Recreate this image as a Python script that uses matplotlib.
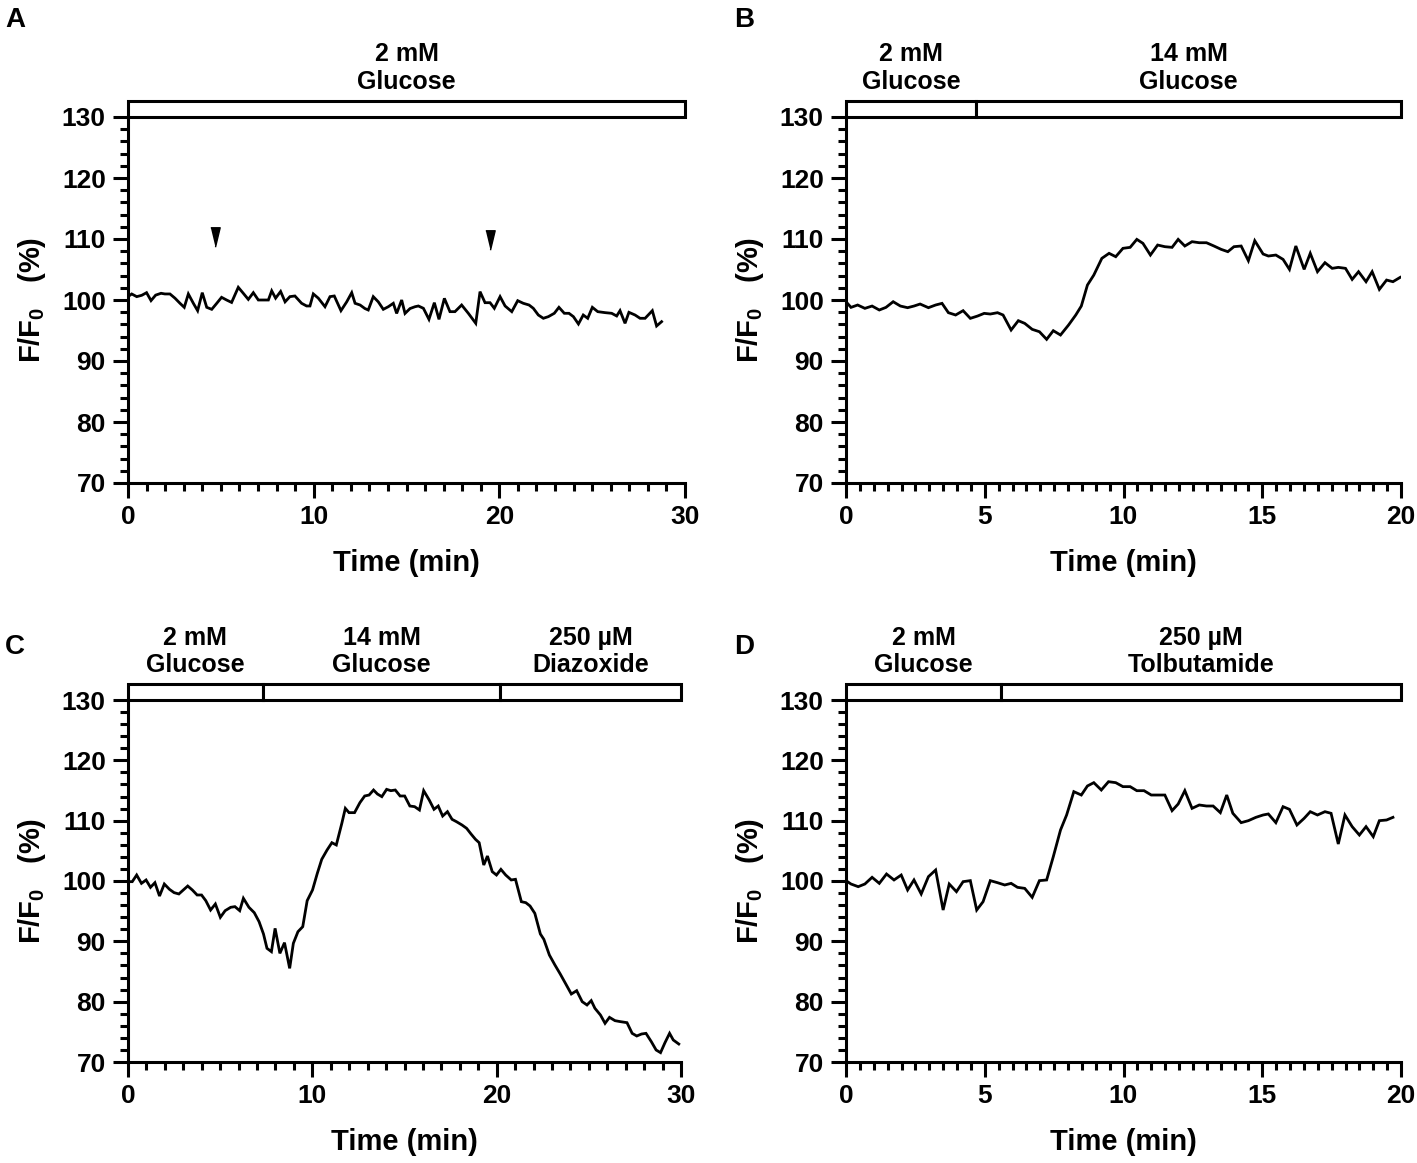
import matplotlib
matplotlib.use("Agg")
import matplotlib.pyplot as plt
from matplotlib.patches import Rectangle
from matplotlib.ticker import MultipleLocator

plt.rcParams['font.family'] = ['Liberation Sans', 'DejaVu Sans']
plt.rcParams['font.weight'] = 'bold'
plt.rcParams['mathtext.fontset'] = 'custom'
plt.rcParams['mathtext.rm'] = 'Liberation Sans'
plt.rcParams['mathtext.bf'] = 'Liberation Sans:bold'

# ---- data ----
# A : 2 mM glucose only
t_a = [0.0, 0.20, 0.47, 0.74, 1.00, 1.24, 1.49, 1.78, 1.99, 2.26, 2.53, 2.80, 3.03, 3.25,
       3.52, 3.75, 4.00, 4.24, 4.51, 4.78, 5.04, 5.31, 5.58, 5.94, 6.21, 6.48, 6.75, 7.02,
       7.29, 7.56, 7.74, 7.95, 8.22, 8.46, 8.72, 8.99, 9.35, 9.62, 9.80, 9.98, 10.25, 10.61,
       10.88, 11.11, 11.47, 11.78, 12.05, 12.23, 12.50, 12.76, 12.94, 13.21, 13.48, 13.75,
       14.02, 14.29, 14.47, 14.74, 14.92, 15.19, 15.46, 15.64, 15.91, 16.21, 16.50, 16.75,
       17.04, 17.34, 17.61, 17.97, 18.33, 18.73, 18.96, 19.23, 19.50, 19.73, 20.04, 20.31,
       20.67, 20.99, 21.29, 21.60, 21.83, 22.10, 22.37, 22.64, 22.96, 23.21, 23.50, 23.75,
       23.99, 24.26, 24.52, 24.76, 25.01, 25.30, 25.69, 26.05, 26.32, 26.50, 26.77, 26.98,
       27.31, 27.58, 27.85, 28.24, 28.47, 28.74]
f_a = [100.55, 100.99, 100.55, 100.77, 101.2, 99.9, 100.8, 101.1, 100.99, 100.99, 100.3,
       99.46, 98.8, 100.99, 99.46, 98.25, 101.2, 98.8, 98.47, 99.46, 100.44, 100.0, 99.6,
       102.08, 101.1, 100.1, 101.2, 100.0, 100.0, 100.0, 101.5, 100.3, 101.4, 99.7, 100.55,
       100.66, 99.46, 99.02, 99.02, 101.0, 100.3, 98.9, 100.55, 100.66, 98.25, 99.7, 101.2,
       99.46, 99.18, 98.6, 98.36, 100.55, 99.7, 98.47, 98.9, 99.46, 97.8, 100.0, 97.8, 98.6,
       98.9, 99.02, 98.64, 96.83, 99.56, 96.83, 100.27, 98.09, 98.09, 99.18, 97.82, 96.18,
       101.37, 99.56, 99.56, 98.64, 100.55, 99.02, 98.09, 99.89, 99.46, 99.18, 98.64, 97.54,
       97.0, 97.27, 97.82, 98.8, 97.82, 97.82, 97.27, 96.07, 97.54, 97.0, 98.8, 98.09, 97.93,
       97.82, 97.38, 98.25, 96.18, 97.98, 97.54, 97.0, 97.0, 98.25, 95.74, 96.45]
arrow_t = [4.7, 19.5]
arrow_f = [110.4, 109.8]

# B : 2 mM -> 14 mM glucose
t_b = [0.0, 0.18, 0.42, 0.68, 0.94, 1.20, 1.44, 1.70, 1.96, 2.22, 2.45, 2.67, 2.97, 3.23,
       3.46, 3.69, 3.95, 4.22, 4.48, 4.74, 4.98, 5.20, 5.46, 5.66, 5.95, 6.21, 6.44, 6.71,
       6.97, 7.23, 7.47, 7.73, 8.02, 8.28, 8.48, 8.70, 8.93, 9.22, 9.48, 9.72, 9.98, 10.24,
       10.48, 10.70, 10.97, 11.23, 11.49, 11.75, 11.97, 12.21, 12.47, 12.73, 12.99, 13.26,
       13.52, 13.76, 13.98, 14.24, 14.50, 14.73, 15.03, 15.22, 15.49, 15.75, 15.98, 16.21,
       16.51, 16.73, 16.99, 17.26, 17.52, 17.74, 18.00, 18.24, 18.47, 18.74, 18.96, 19.22,
       19.48, 19.71, 19.97]
f_b = [99.72, 98.79, 99.18, 98.63, 99.01, 98.36, 98.79, 99.72, 99.01, 98.74, 99.01, 99.34,
       98.74, 99.18, 99.45, 97.92, 97.54, 98.25, 96.99, 97.37, 97.81, 97.70, 97.92, 97.54,
       95.08, 96.61, 96.17, 95.19, 94.80, 93.55, 94.97, 94.26, 95.90, 97.54, 99.01, 102.45,
       104.09, 106.83, 107.65, 107.10, 108.47, 108.63, 109.94, 109.29, 107.37, 109.01,
       108.74, 108.63, 109.94, 108.85, 109.56, 109.39, 109.39, 108.85, 108.30, 107.92,
       108.74, 108.85, 106.44, 109.72, 107.54, 107.21, 107.37, 106.66, 105.02, 108.85,
       105.02, 107.65, 104.64, 106.12, 105.19, 105.35, 105.19, 103.38, 104.64, 103.0,
       104.64, 101.74, 103.27, 103.0, 103.71]

# C : 2 mM -> 14 mM glucose -> 250 uM diazoxide
t_c = [0.0, 0.23, 0.47, 0.73, 0.98, 1.22, 1.46, 1.71, 1.97, 2.25, 2.50, 2.76, 3.00, 3.24,
       3.49, 3.75, 3.99, 4.22, 4.48, 4.74, 5.01, 5.27, 5.57, 5.80, 6.06, 6.26, 6.56, 6.85,
       7.11, 7.35, 7.54, 7.78, 7.98, 8.24, 8.49, 8.77, 8.97, 9.22, 9.48, 9.72, 10.01, 10.27,
       10.51, 10.80, 11.06, 11.30, 11.60, 11.79, 11.99, 12.29, 12.58, 12.84, 13.08, 13.32,
       13.53, 13.77, 14.03, 14.26, 14.50, 14.76, 15.01, 15.29, 15.55, 15.81, 16.04, 16.34,
       16.60, 16.83, 17.07, 17.33, 17.58, 17.82, 18.12, 18.37, 18.61, 18.85, 19.05, 19.30,
       19.50, 19.76, 19.99, 20.23, 20.49, 20.79, 21.02, 21.34, 21.58, 21.81, 22.07, 22.37,
       22.56, 22.86, 23.16, 23.45, 23.75, 24.05, 24.34, 24.64, 24.90, 25.13, 25.33, 25.63,
       25.88, 26.12, 26.42, 26.71, 27.07, 27.35, 27.60, 27.86, 28.10, 28.39, 28.65, 28.89,
       29.13, 29.38, 29.58, 29.88]
f_c = [99.89, 99.89, 100.99, 99.61, 100.17, 98.95, 99.72, 97.51, 99.50, 98.62, 98.07,
       97.85, 98.51, 99.17, 98.51, 97.68, 97.68, 96.74, 95.19, 96.19, 93.98, 95.08, 95.64,
       95.75, 95.08, 97.13, 95.64, 94.75, 93.26, 91.22, 88.84, 88.29, 92.15, 88.01, 89.78,
       85.52, 89.67, 91.60, 92.43, 96.74, 98.51, 101.27, 103.59, 105.14, 106.35, 105.97,
       109.56, 112.04, 111.33, 111.33, 112.98, 114.09, 114.25, 115.08, 114.42, 113.98,
       115.19, 114.97, 115.08, 114.09, 114.09, 112.43, 112.32, 111.77, 114.97, 113.43,
       111.88, 112.43, 110.77, 111.49, 110.22, 109.83, 109.28, 108.73, 107.79, 106.91,
       106.35, 102.65, 104.14, 101.55, 100.99, 101.93, 100.99, 100.17, 100.28, 96.57,
       96.41, 95.86, 94.64, 91.22, 90.33, 87.73, 86.08, 84.58, 82.93, 81.27, 81.82, 80.0,
       79.45, 80.17, 78.90, 77.79, 76.41, 77.40, 76.85, 76.69, 76.52, 74.75, 74.31, 74.64,
       74.75, 73.37, 71.99, 71.55, 73.20, 74.75, 73.65, 72.98]

# D : 2 mM glucose -> 250 uM tolbutamide
t_d = [0.0, 0.18, 0.44, 0.68, 0.94, 1.20, 1.46, 1.73, 1.99, 2.22, 2.45, 2.71, 2.97, 3.23,
       3.50, 3.72, 3.98, 4.22, 4.48, 4.71, 4.94, 5.20, 5.46, 5.72, 5.95, 6.18, 6.44, 6.71,
       6.97, 7.23, 7.47, 7.73, 7.95, 8.21, 8.48, 8.70, 8.93, 9.20, 9.46, 9.72, 9.98, 10.24,
       10.48, 10.74, 11.00, 11.27, 11.49, 11.75, 11.97, 12.21, 12.47, 12.73, 12.99, 13.23,
       13.49, 13.72, 13.94, 14.24, 14.50, 14.77, 15.03, 15.22, 15.49, 15.75, 15.98, 16.25,
       16.51, 16.73, 16.99, 17.26, 17.48, 17.74, 17.98, 18.24, 18.50, 18.74, 19.00, 19.22,
       19.48, 19.71]
f_d = [100.06, 99.50, 99.06, 99.50, 100.61, 99.61, 101.16, 100.17, 100.99, 98.51, 100.17,
       97.85, 100.72, 101.82, 95.19, 99.50, 98.23, 99.89, 100.06, 95.19, 96.57, 100.06,
       99.72, 99.34, 99.61, 98.95, 98.78, 97.29, 100.06, 100.17, 104.03, 108.45, 110.94,
       114.81, 114.25, 115.75, 116.30, 115.08, 116.46, 116.30, 115.64, 115.64, 114.97,
       114.97, 114.25, 114.25, 114.25, 111.66, 112.76, 114.97, 112.04, 112.60, 112.43,
       112.43, 111.33, 114.25, 111.22, 109.67, 110.0, 110.55, 110.94, 111.11, 109.67,
       112.32, 111.88, 109.28, 110.39, 111.49, 110.94, 111.49, 111.22, 106.13, 110.94,
       109.01, 107.62, 109.01, 107.35, 110.0, 110.11, 110.55]

# treatment bars: segment edges (min) and labels
edges_a = [0, 30]
labels_a = ['2 mM\nGlucose']
edges_b = [0, 4.7, 20]
labels_b = ['2 mM\nGlucose', '14 mM\nGlucose']
edges_c = [0, 7.3, 20.2, 30]
labels_c = ['2 mM\nGlucose', '14 mM\nGlucose', '250 µM\nDiazoxide']
edges_d = [0, 5.6, 20]
labels_d = ['2 mM\nGlucose', '250 µM\nTolbutamide']

W, H = 1417, 1163
fig = plt.figure(figsize=(W / 100, H / 100), dpi=100)

LW = 2.2


def panel(rect, t, f, xmax, xminor, edges, labels, letter, letter_xy):
    ax = fig.add_axes(rect)
    ax.plot(t, f, color='black', lw=2.0, solid_joinstyle='miter')
    ax.set_xlim(0, xmax)
    ax.set_ylim(70, 130)
    ax.set_xticks(range(0, xmax + 1, 10 if xmax == 30 else 5))
    ax.set_yticks(range(70, 131, 10))
    ax.xaxis.set_minor_locator(MultipleLocator(xminor))
    ax.yaxis.set_minor_locator(MultipleLocator(2))
    for s in ['top', 'right']:
        ax.spines[s].set_visible(False)
    for s in ['left', 'bottom']:
        ax.spines[s].set_linewidth(LW)
    ax.tick_params(which='major', length=11, width=LW, labelsize=19, pad=5)
    ax.tick_params(which='minor', length=6, width=LW)
    ax.set_xlabel('Time (min)', fontsize=21, fontweight='bold', labelpad=14)
    ax.set_ylabel(r'F/F$_\mathrm{0}$   (%)', fontsize=21, fontweight='bold', labelpad=10)
    # treatment bar above the plot
    for i, lab in enumerate(labels):
        x0, x1 = edges[i], edges[i + 1]
        ax.add_patch(Rectangle((x0, 130), x1 - x0, 2.6, facecolor='white',
                               edgecolor='black', lw=LW, clip_on=False, zorder=5))
        ax.annotate(lab, xy=((x0 + x1) / 2, 132.6), xytext=(0, 5),
                    textcoords='offset points', ha='center', va='bottom',
                    fontsize=18, fontweight='bold', linespacing=1.2,
                    annotation_clip=False)
    fig.text(letter_xy[0], letter_xy[1], letter, fontsize=20, fontweight='bold',
             ha='left', va='top')
    return ax


ax_a = panel([128 / W, 1 - 483 / H, 557 / W, 366 / H], t_a, f_a, 30, 1,
             edges_a, labels_a, 'A', (5 / W, 1 - 7 / H))
ax_a.plot(arrow_t, arrow_f, ls='none', color='black', ms=14,
          marker=[(-0.48, 1), (0.48, 1), (0, -1)])
panel([846 / W, 1 - 483 / H, 555 / W, 366 / H], t_b, f_b, 20, 0.5,
      edges_b, labels_b, 'B', (734 / W, 1 - 7 / H))
panel([128 / W, 1 - 1062 / H, 553 / W, 362 / H], t_c, f_c, 30, 1,
      edges_c, labels_c, 'C', (5 / W, 1 - 634 / H))
panel([846 / W, 1 - 1062 / H, 555 / W, 362 / H], t_d, f_d, 20, 0.5,
      edges_d, labels_d, 'D', (734 / W, 1 - 634 / H))

fig.savefig('out.png', dpi=100)
